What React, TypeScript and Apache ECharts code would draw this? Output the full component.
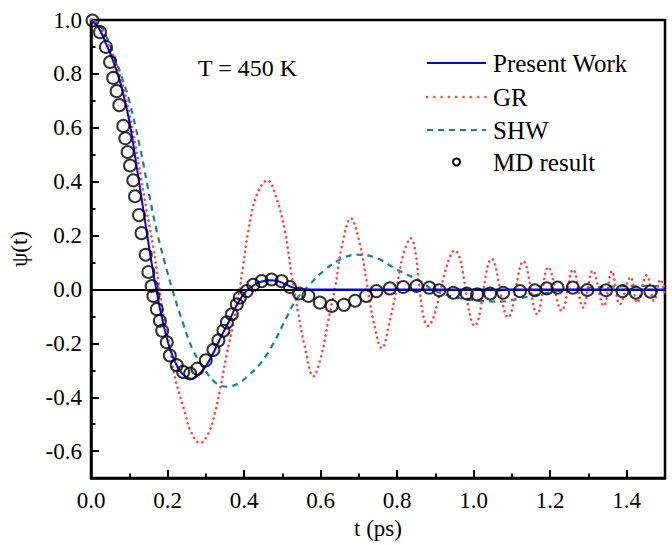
import React, { useEffect, useRef } from "react";
import * as echarts from "echarts";

// ---- Data ----
const xMajorTicks = [0, 0.2, 0.4, 0.6, 0.8, 1.0, 1.2, 1.4];
const yMajorTicks = [-0.6, -0.4, -0.2, 0, 0.2, 0.4, 0.6, 0.8, 1.0];

// Present Work (blue, solid)
const pwT = [0, 0.02, 0.04, 0.06, 0.08, 0.10, 0.12, 0.14, 0.16, 0.18, 0.20, 0.22, 0.24, 0.263, 0.28, 0.30, 0.32, 0.34, 0.36, 0.38, 0.40, 0.42, 0.44, 0.468, 0.49, 0.51, 0.53, 0.55, 0.6, 0.8, 1.0, 1.2, 1.5];
const pwV = [1.0, 0.97, 0.91, 0.84, 0.75, 0.625, 0.45, 0.265, 0.085, -0.07, -0.19, -0.27, -0.315, -0.331, -0.318, -0.285, -0.235, -0.175, -0.12, -0.06, -0.015, 0.01, 0.027, 0.034, 0.03, 0.018, 0.006, 0.001, 0, 0, 0, 0, 0];

// GR (red, dotted)
const grT = [0, 0.02, 0.04, 0.06, 0.08, 0.10, 0.117, 0.13, 0.145, 0.163, 0.176, 0.182, 0.193, 0.206, 0.219, 0.233, 0.246, 0.259, 0.285, 0.307, 0.324, 0.337, 0.355, 0.372, 0.385, 0.398, 0.411, 0.433, 0.461, 0.485, 0.507, 0.524, 0.542, 0.559, 0.581, 0.603, 0.620, 0.638, 0.655, 0.679, 0.703, 0.720, 0.738, 0.760, 0.781, 0.799, 0.816, 0.835, 0.881, 0.951, 1.003, 1.047, 1.090, 1.130, 1.166, 1.195, 1.230, 1.260, 1.286, 1.311, 1.340, 1.361, 1.382, 1.410, 1.427, 1.452, 1.471, 1.488, 1.5];
const grV = [1.0, 0.98, 0.925, 0.86, 0.773, 0.655, 0.528, 0.42, 0.295, 0.154, 0.031, -0.03, -0.128, -0.214, -0.325, -0.398, -0.459, -0.521, -0.570, -0.533, -0.459, -0.373, -0.239, -0.128, -0.03, 0.092, 0.215, 0.35, 0.405, 0.338, 0.215, 0.056, -0.092, -0.214, -0.322, -0.239, -0.116, 0.007, 0.154, 0.264, 0.166, 0.031, -0.116, -0.218, -0.116, 0.007, 0.129, 0.19, -0.135, 0.145, -0.135, 0.114, -0.104, 0.105, -0.092, 0.083, -0.079, 0.074, -0.067, 0.070, -0.061, 0.068, -0.055, 0.046, -0.049, 0.053, -0.042, 0.037, -0.024];

// SHW (teal, dashed)
const shwT = [0, 0.02, 0.04, 0.06, 0.084, 0.10, 0.128, 0.154, 0.172, 0.193, 0.215, 0.241, 0.267, 0.298, 0.328, 0.355, 0.385, 0.407, 0.442, 0.476, 0.511, 0.537, 0.572, 0.607, 0.651, 0.694, 0.746, 0.799, 0.860, 0.895, 0.951, 1.016, 1.069, 1.121, 1.165, 1.25, 1.35, 1.45, 1.5];
const shwV = [1.0, 0.985, 0.94, 0.87, 0.773, 0.70, 0.528, 0.338, 0.215, 0.099, -0.012, -0.128, -0.226, -0.30, -0.349, -0.361, -0.349, -0.325, -0.276, -0.202, -0.104, -0.036, 0.019, 0.068, 0.111, 0.129, 0.117, 0.074, 0.031, -0.003, -0.028, -0.042, -0.045, -0.033, -0.02, 0.0, 0.01, 0.013, 0.012];

// MD result (open circles)
const mdT = [0.004, 0.0235, 0.039, 0.0497, 0.058, 0.067, 0.074, 0.0845, 0.0897, 0.0958, 0.102, 0.1105, 0.115, 0.1254, 0.132, 0.143, 0.150, 0.1585, 0.163, 0.172, 0.180, 0.186, 0.198, 0.206, 0.224, 0.241, 0.259, 0.278, 0.300, 0.320, 0.333, 0.346, 0.355, 0.368, 0.381, 0.389, 0.407, 0.424, 0.446, 0.472, 0.498, 0.520, 0.544, 0.568, 0.598, 0.629, 0.661, 0.690, 0.719, 0.746, 0.781, 0.816, 0.851, 0.884, 0.910, 0.947, 0.982, 1.009, 1.043, 1.077, 1.121, 1.160, 1.191, 1.219, 1.259, 1.297, 1.346, 1.389, 1.424, 1.462];
const mdV = [0.998, 0.955, 0.90, 0.844, 0.785, 0.736, 0.684, 0.607, 0.561, 0.510, 0.460, 0.405, 0.346, 0.276, 0.209, 0.129, 0.065, 0.013, -0.024, -0.073, -0.116, -0.153, -0.196, -0.245, -0.281, -0.306, -0.312, -0.294, -0.263, -0.224, -0.189, -0.153, -0.122, -0.092, -0.055, -0.030, -0.006, 0.017, 0.031, 0.037, 0.031, 0.009, -0.015, -0.024, -0.049, -0.061, -0.057, -0.042, -0.024, -0.006, 0.004, 0.009, 0.013, 0.007, -0.003, -0.012, -0.015, -0.018, -0.015, -0.012, -0.006, -0.003, 0.004, 0.007, 0.007, -0.002, -0.003, -0.006, -0.012, -0.008];

const legendNames = ["Present Work", "GR", "SHW", "MD result"];
const annotation = "T = 450 K";

const FONT = '"Liberation Serif", "Times New Roman", serif';
const BLUE = "#0000ff";
const RED = "#ff4545";
const TEAL = "#128787";

const zip = (a: number[], b: number[]) => a.map((t, i) => [t, b[i]]);

export default function App() {
  const ref = useRef<HTMLDivElement>(null);
  useEffect(() => {
    document.body.style.margin = "0";
    document.body.style.overflow = "hidden";
    if (!ref.current) return;
    const chart = echarts.init(ref.current, null, { renderer: "svg" });
    const axisLineStyle = { color: "#000", width: 2.5 };
    const tickLine = { color: "#000", width: 2 };
    const labelStyle = { fontFamily: FONT, fontSize: 23, color: "#000" };

    const legendRows = [63, 97, 130, 162];
    const lx1 = 427, lx2 = 486, tx = 493;

    chart.setOption({
      animation: false,
      backgroundColor: "#fff",
      grid: { left: 91, right: 7, top: 20, bottom: 63, show: true, borderColor: "#000", borderWidth: 2.5, containLabel: false },
      xAxis: [
        {
          type: "value", min: 0, max: 1.5, position: "bottom",
          axisLine: { show: true, onZero: false, lineStyle: axisLineStyle },
          axisTick: { show: true, inside: true, length: 8, lineStyle: tickLine, customValues: xMajorTicks },
          axisLabel: { show: true, customValues: xMajorTicks, formatter: (v: number) => v.toFixed(1), margin: 11, ...labelStyle },
          splitLine: { show: false },
          name: "t (ps)", nameLocation: "middle", nameGap: 38,
          nameTextStyle: { fontFamily: FONT, fontSize: 23, color: "#000" },
        },
        {
          type: "value", min: 0, max: 1.5, interval: 0.1, position: "bottom",
          axisLine: { show: false, onZero: false },
          axisTick: { show: true, inside: true, length: 4.5, lineStyle: tickLine },
          axisLabel: { show: false }, splitLine: { show: false },
        },
      ],
      yAxis: [
        {
          type: "value", min: -0.7, max: 1.0, position: "left",
          axisLine: { show: true, onZero: false, lineStyle: axisLineStyle },
          axisTick: { show: true, inside: true, length: 8, lineStyle: tickLine, customValues: yMajorTicks },
          axisLabel: { show: true, customValues: yMajorTicks, formatter: (v: number) => v.toFixed(1), margin: 9, ...labelStyle },
          splitLine: { show: false },
          name: "ψ(t)", nameLocation: "middle", nameGap: 60,
          nameTextStyle: { fontFamily: FONT, fontSize: 23, color: "#000" },
        },
        {
          type: "value", min: -0.7, max: 1.0, interval: 0.1, position: "left",
          axisLine: { show: false, onZero: false },
          axisTick: { show: true, inside: true, length: 4.5, lineStyle: tickLine },
          axisLabel: { show: false }, splitLine: { show: false },
        },
      ],
      series: [
        {
          name: "zero", type: "line", data: [], z: 1, silent: true,
          markLine: {
            silent: true, symbol: "none", label: { show: false },
            lineStyle: { color: "#000", width: 2, type: "solid" },
            data: [{ yAxis: 0 }],
          },
        },
        {
          name: legendNames[2], type: "line", smooth: 0.4, symbol: "none", data: zip(shwT, shwV), z: 3,
          lineStyle: { color: TEAL, width: 2.2, type: [6, 5] },
        },
        {
          name: legendNames[1], type: "line", smooth: 0.4, symbol: "none", data: zip(grT, grV), z: 4,
          lineStyle: { color: RED, width: 2.6, type: [0.1, 5.2], cap: "round" },
        },
        {
          name: legendNames[0], type: "line", smooth: 0.4, symbol: "none", data: zip(pwT, pwV), z: 5,
          lineStyle: { color: BLUE, width: 2 },
        },
        {
          name: legendNames[3], type: "scatter", symbol: "circle", symbolSize: 12, data: zip(mdT, mdV), z: 6,
          itemStyle: { color: "rgba(0,0,0,0)", borderColor: "#000", borderWidth: 2 },
        },
      ],
      graphic: [
        { type: "text", left: 198, top: 56, style: { text: annotation, font: `24px ${FONT}`, fill: "#000" } },
        { type: "line", shape: { x1: lx1, y1: legendRows[0], x2: lx2, y2: legendRows[0] }, style: { stroke: BLUE, lineWidth: 2 } },
        { type: "line", shape: { x1: lx1, y1: legendRows[1], x2: lx2, y2: legendRows[1] }, style: { stroke: RED, lineWidth: 2.6, lineDash: [0.1, 7.2], lineCap: "round" } },
        { type: "line", shape: { x1: lx1, y1: legendRows[2], x2: lx2, y2: legendRows[2] }, style: { stroke: TEAL, lineWidth: 2.2, lineDash: [6, 5] } },
        { type: "circle", shape: { cx: (lx1 + lx2) / 2, cy: legendRows[3], r: 3.5 }, style: { stroke: "#000", lineWidth: 2, fill: "none" } },
        ...legendNames.map((n, i) => ({
          type: "text", x: tx, y: legendRows[i],
          style: { text: n, font: `25px ${FONT}`, fill: "#000", verticalAlign: "middle", align: "left" },
        })),
      ],
    });
    return () => chart.dispose();
  }, []);
  return <div ref={ref} style={{ width: 672, height: 545 }} />;
}
